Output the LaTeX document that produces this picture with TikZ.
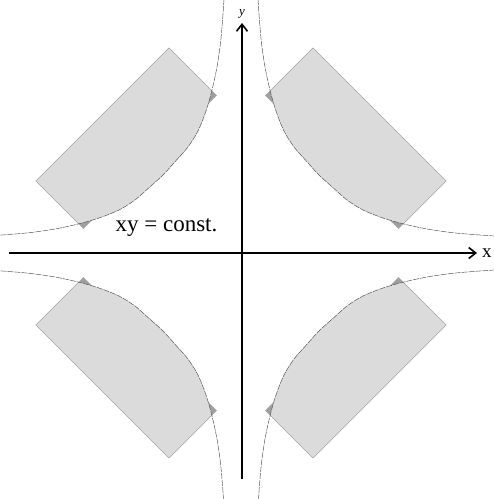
\documentclass[tikz,border=0pt]{standalone}
\usepackage{fontspec}
\setmainfont{Liberation Serif}
\usetikzlibrary{arrows.meta, positioning}

\definecolor{lightfill}{gray}{0.86}
\definecolor{darkfill}{gray}{0.62}
\definecolor{edgegray}{gray}{0.68}
\definecolor{curvegray}{gray}{0.35}

\begin{document}
\begin{tikzpicture}[
  x=1pt, y=1pt,
  every node/.style={font=\fontsize{19}{22}\selectfont},
  axis/.style={line width=1.6pt, -{Straight Barb[length=7pt, width=11pt, line width=1.6pt]}},
  hyper/.style={curvegray, line width=0.5pt, dash pattern=on 6pt off 1pt},
  corner/.style={fill=darkfill, draw=edgegray, line width=0.5pt},
  slab/.style={fill=lightfill},
  rim/.style={draw=edgegray, line width=0.5pt},
]
  \useasboundingbox (-241,-246) rectangle (253,253);

  % one branch and one tilted slab per quadrant
  \foreach \sx/\sy in {1/1,-1/1,-1/-1,1/-1} {
    \begin{scope}[xscale=\sx, yscale=\sy]
      \filldraw[corner] (24.5,157.5) -- (72,205) -- (205,72) -- (157.5,24.5) -- cycle;
      \begin{scope}
        \clip plot[smooth] coordinates {(17,254) (18.5,232) (20.5,210) (24,186) (29,163) (35,142) (43,122) (53,106) (64,93.5) (78,78) (93.5,64) (106,53) (122,43) (142,35) (163,29) (186,24) (210,20.5) (232,18.5) (254,17)} -- (260,260) -- cycle;
        \fill[slab] (-35.5,97.5) -- (72,205) -- (205,72) -- (97.5,-35.5) -- cycle;
      \end{scope}
      \draw[rim] (24.5,157.5) -- (72,205) -- (205,72) -- (157.5,24.5);
      \draw[hyper] plot[smooth] coordinates {(17,254) (18.5,232) (20.5,210) (24,186) (29,163) (35,142) (43,122) (53,106) (64,93.5) (78,78) (93.5,64) (106,53) (122,43) (142,35) (163,29) (186,24) (210,20.5) (232,18.5) (254,17)};
    \end{scope}
  }

  % axes
  \coordinate (xl) at (-232,0);
  \coordinate (xr) at (236,0);
  \coordinate (yb) at (1,-226);
  \coordinate (yt) at (1,230);
  \draw[axis] (xl) -- (xr);
  \draw[axis] (yb) -- (yt);
  \node[right=5pt of xr, inner sep=0pt] (xlab) {x};
  \node[above=4pt of yt, inner sep=0pt, font=\fontsize{13}{15}\selectfont] (ylab) {\textit{y}};

  \node[anchor=base, font=\fontsize{23}{26}\selectfont] (const) at (-74.5,21.3) {xy = const.};
\end{tikzpicture}
\end{document}
